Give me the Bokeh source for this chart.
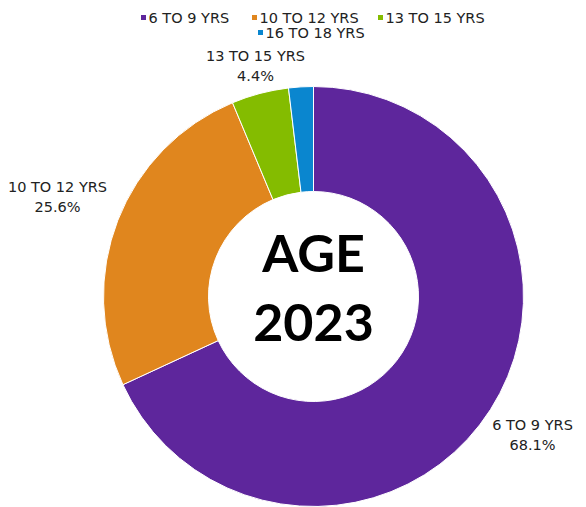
import math
from bokeh.plotting import figure
from bokeh.models import Range1d, ColumnDataSource
from bokeh.core.properties import value
from bokeh.embed import file_html
from bokeh.resources import INLINE

categories = ["6 TO 9 YRS", "10 TO 12 YRS", "13 TO 15 YRS", "16 TO 18 YRS"]
shares = [68.1, 25.6, 4.4, 1.9]
colors = ["#5E269C", "#E0861E", "#84BC00", "#0A86CF"]
title_lines = ["AGE", "2023"]

FONT = "DejaVu Sans"
CX, CY = 313, -296
R_OUT, R_IN = 210, 105

W, H = 586, 507
p = figure(width=W, height=H, output_backend="svg", toolbar_location=None,
           x_range=Range1d(0, W), y_range=Range1d(-H, 0), min_border=0)
p.axis.visible = False
p.grid.visible = False
p.outline_line_color = None
p.background_fill_color = "white"

total = sum(shares)
starts, ends = [], []
acc = 0.0
for s in shares:
    a0 = math.pi / 2 - 2 * math.pi * acc / total
    acc += s
    a1 = math.pi / 2 - 2 * math.pi * acc / total
    starts.append(a0)
    ends.append(a1)

src = ColumnDataSource(dict(start=starts, end=ends, color=colors, cat=categories))
p.annular_wedge(x=CX, y=CY, inner_radius=R_IN, outer_radius=R_OUT,
                start_angle="start", end_angle="end", direction="clock",
                fill_color="color", line_color="white", line_width=1, source=src)

# data labels (smallest slice unlabeled, as in the reference)
label_pos = [(532, -424), (57, -186), (255, -55)]
for i, (lx, ly) in enumerate(label_pos):
    p.text(x=[lx], y=[ly], text=[categories[i]], text_font=value(FONT),
           text_font_size="14.5px", text_color="#222222",
           text_align="center", text_baseline="middle")
    p.text(x=[lx], y=[ly - 20], text=[f"{shares[i]:.1f}%"], text_font=value(FONT),
           text_font_size="14.5px", text_color="#222222",
           text_align="center", text_baseline="middle")

# centre title
p.text(x=[CX, CX], y=[CY + 45, CY - 26], text=title_lines, text_font=value("Lato"),
       text_font_style="bold", text_font_size="52px", text_color="black",
       text_align="center", text_baseline="middle")

# legend
leg_pos = [(143, -17), (254, -17), (380, -17), (260, -32)]
for i, (mx, my) in enumerate(leg_pos):
    p.scatter(x=[mx], y=[my], marker="square", size=5, fill_color=colors[i],
              line_color=None)
    p.text(x=[mx + 5], y=[my], text=[categories[i]], text_font=value(FONT),
           text_font_size="14.5px", text_color="#222222",
           text_align="left", text_baseline="middle")

open("out.html", "w").write(file_html(p, INLINE))
